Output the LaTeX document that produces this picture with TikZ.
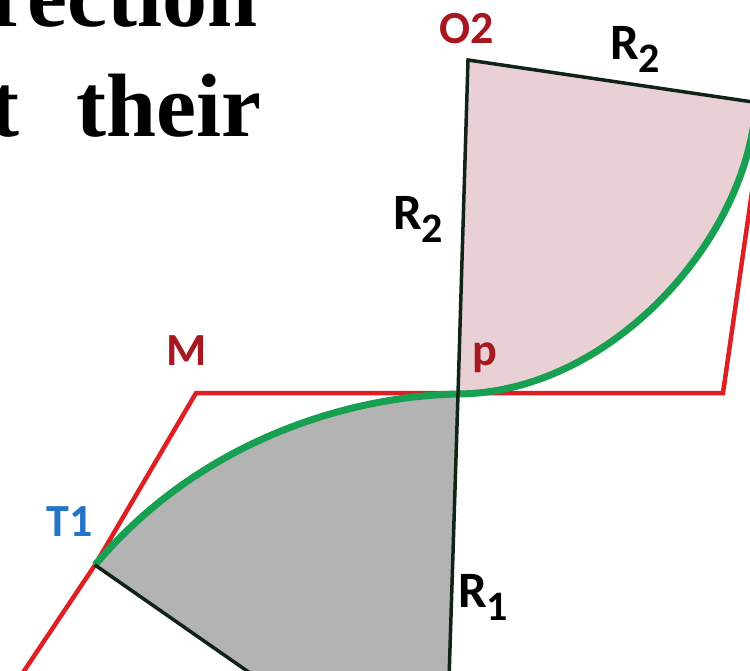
\documentclass[tikz,border=0pt]{standalone}
\usepackage{fontspec}
\setmainfont{Liberation Serif}
\newfontfamily\lblfont{Carlito}
\usepackage{xcolor}
\usepackage{tikz}
\definecolor{curvegreen}{RGB}{24,160,82}
\definecolor{tanred}{RGB}{220,32,36}
\definecolor{lblred}{RGB}{168,22,32}
\definecolor{lblblue}{RGB}{36,116,200}
\definecolor{rayblack}{RGB}{16,36,22}
\definecolor{sectorpink}{RGB}{232,208,212}
\definecolor{sectorgray}{RGB}{179,179,179}
\newcommand{\rsub}[1]{R\raisebox{-13pt}{\fontsize{42}{42}\selectfont#1}}

\begin{document}
\begin{tikzpicture}[x=1pt, y=-1pt,
  tangent/.style={tanred, line width=4.5pt, line join=miter},
  ray/.style={rayblack, line width=3.5pt},
  arcline/.style={curvegreen, line width=7pt},
  lbl/.style={font=\lblfont\bfseries\fontsize{46}{46}\selectfont, inner sep=0pt},
  rlbl/.style={font=\lblfont\bfseries\fontsize{51}{51}\selectfont, inner sep=0pt, anchor=base west},
  word/.style={font=\bfseries\fontsize{90}{90}\selectfont, inner sep=0pt, anchor=base east}]
  \useasboundingbox (0,0) rectangle (750,671);
  \clip (0,0) rectangle (750,671);

  % points
  \coordinate (p) at (458,394);
  \coordinate (O2) at (468,60);
  \coordinate (T1) at (95,565);
  \coordinate (M) at (196,393);
  \coordinate (Q) at (723,393);
  \coordinate (Qend) at (758,150);
  \coordinate (Tstart) at (18,680);
  \coordinate (R2end) at (780,106);
  \coordinate (A2) at (756,103);
  \coordinate (R1end) at (449,680);
  \coordinate (T1end) at (260,680);

  % sectors
  \fill[sectorpink] (O2) -- (p) .. controls (610,393) and (748,240) .. (A2) -- (R2end) -- cycle;
  \fill[sectorgray] (T1) .. controls (200,440) and (350,396) .. (p) -- (R1end) -- (T1end) -- cycle;

  % tangent lines
  \draw[tangent] (Tstart) -- (T1) -- (M) -- (Q) -- (Qend);

  % curves
  \draw[arcline] (T1) .. controls (200,440) and (350,396) .. (p);
  \draw[arcline] (p) .. controls (610,393) and (748,240) .. (A2);

  % radii
  \draw[ray] (p) -- (O2) -- (R2end);
  \draw[ray] (p) -- (R1end);
  \draw[ray] (T1) -- (T1end);

  % labels
  \node[lbl, text=lblred] (O2lbl) at (467,29) {O2};
  \node[lbl, text=lblred] (Mlbl) at (187,351) {M};
  \node[lbl, text=lblred] (plbl) at (485,358) {p};
  \node[lbl, text=lblblue] (T1lbl) at (70,522) {T1};
  \node[rlbl] (R2top) at (610,60) {\rsub{2}};
  \node[rlbl] (R2left) at (393,230) {\rsub{2}};
  \node[rlbl] (R1lbl) at (458,607) {\rsub{1}};

  % cut text
  \node[word] (lineA) at (258,27) {rection};
  \node[word] (lineBa) at (20,137) {t};
  \node[word] (lineBb) at (262,137) {their};
\end{tikzpicture}
\end{document}
